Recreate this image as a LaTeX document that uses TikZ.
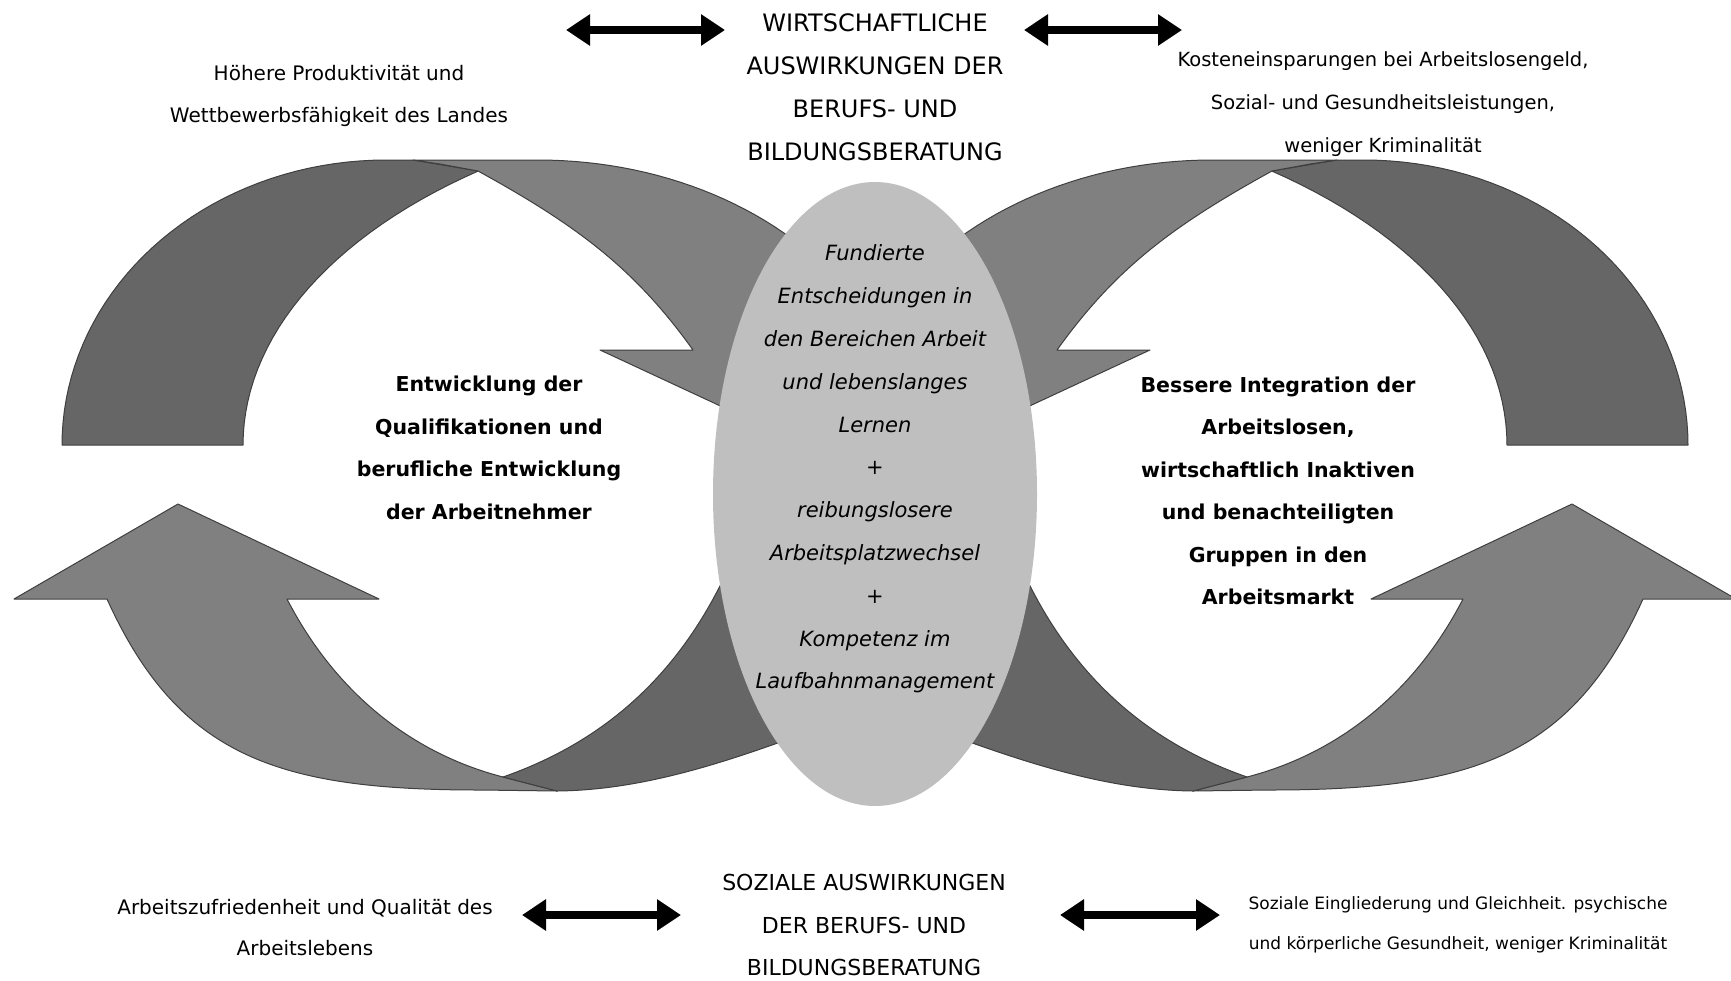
\documentclass[tikz,border=0pt]{standalone}
\usepackage{fontspec}
\setmainfont{DejaVu Sans}
\usetikzlibrary{arrows.meta,shapes.geometric}
\definecolor{ribbondark}{HTML}{666666}
\definecolor{ribbonlight}{HTML}{808080}
\definecolor{ribbonedge}{HTML}{3F3F3F}
\definecolor{ovalgray}{HTML}{BFBFBF}

\begin{document}
\begin{tikzpicture}[x=1pt,y=-1pt,
  ribbonback/.style={fill=ribbondark,draw=ribbonedge,line width=1pt,line join=round},
  ribbonfront/.style={fill=ribbonlight,draw=ribbonedge,line width=1pt,line join=round},
  ovalshape/.style={ellipse,fill=ovalgray,minimum width=324pt,minimum height=624pt,inner sep=0pt},
  dblarrow/.style={{Triangle[length=24pt,width=30pt]}-{Triangle[length=24pt,width=30pt]},line width=8pt},
  titletext/.style={align=center,font=\fontsize{24}{43}\selectfont},
  sidetext/.style={align=center,font=\fontsize{20}{42}\selectfont},
  boldtext/.style={align=center,font=\fontsize{20.5}{42.5}\selectfont\bfseries},
  ovaltext/.style={align=center,font=\fontsize{21}{42.8}\selectfont\itshape}]
 \useasboundingbox (0,0) rectangle (1731,980);
 % the two ribbon rings, right one mirrored
 \foreach \side in {1,-1}{
  \begin{scope}[shift={(875,0)},xscale=\side,shift={(-875,0)}]
   \filldraw[ribbonback] plot[domain=180:90,samples=40] ({386+324*cos(\x)},{445-285*sin(\x)})
     -- (413,160) -- (478,171)
     -- plot[domain=127.2:180,samples=30] ({838+595*cos(\x)},{445-344*sin(\x)}) -- cycle;
   \filldraw[ribbonfront] (413,160) -- (538,160)
     -- plot[domain=90:35,samples=30] ({538+368*cos(\x)},{445-285*sin(\x)})
     -- (900,330) -- (830,457) -- (600,350) -- (693,350)
     .. controls (635,269) and (578,226) .. (478,171) -- (440,164) -- cycle;
   \filldraw[ribbonfront] (178,504) -- (14,599) -- (107,599)
     .. controls (179,758) and (280,790) .. (480,790) -- (557,791) -- (503,777)
     .. controls (416,754.5) and (337.6,696.9) .. (287,599) -- (379,599) -- cycle;
   \filldraw[ribbonback] (503,777) .. controls (603,742) and (680,676) .. (730,565)
     -- (740,540) -- (845,718) .. controls (740,758) and (650,790) .. (557,791) -- cycle;
  \end{scope}
 }
 \node[ovalshape] (oval) at (875,494) {};
 \node[ovaltext] (ovalText) at (875,469) {Fundierte\\Entscheidungen in\\den Bereichen Arbeit\\und lebenslanges\\Lernen\\+\\reibungslosere\\Arbeitsplatzwechsel\\+\\Kompetenz im\\Laufbahnmanagement};
 \node[boldtext] (skillsText) at (489,448) {Entwicklung der\\Qualifikationen und\\berufliche Entwicklung\\der Arbeitnehmer};
 \node[boldtext] (integrText) at (1278,491) {Bessere Integration der\\Arbeitslosen,\\wirtschaftlich Inaktiven\\und benachteiligten\\Gruppen in den\\Arbeitsmarkt};
 % economic effects
 \node[titletext] (ecoTitle) at (875,87) {WIRTSCHAFTLICHE\\AUSWIRKUNGEN DER\\BERUFS- UND\\BILDUNGSBERATUNG};
 \node[sidetext] (ecoLeft) at (339,96) {Höhere Produktivität und\\Wettbewerbsfähigkeit des Landes};
 \node[sidetext,font=\fontsize{19.5}{43}\selectfont] (ecoRight) at (1383,104) {Kosteneinsparungen bei Arbeitslosengeld,\\Sozial- und Gesundheitsleistungen,\\weniger Kriminalität};
 \coordinate (ecoLa) at (566,30);
 \coordinate (ecoLb) at (725,30);
 \coordinate (ecoRa) at (1024,30);
 \coordinate (ecoRb) at (1182,30);
 \draw[dblarrow] (ecoLa) -- (ecoLb);
 \draw[dblarrow] (ecoRa) -- (ecoRb);
 % social effects
 \node[titletext,font=\fontsize{22}{42.5}\selectfont] (socTitle) at (864,925) {SOZIALE AUSWIRKUNGEN\\DER BERUFS- UND\\BILDUNGSBERATUNG};
 \node[sidetext,font=\fontsize{20}{41}\selectfont] (socLeft) at (305,928) {Arbeitszufriedenheit und Qualität des\\Arbeitslebens};
 \node[sidetext,font=\fontsize{17}{40}\selectfont] (socRight) at (1458,925) {Soziale Eingliederung und Gleichheit. psychische\\und körperliche Gesundheit, weniger Kriminalität};
 \coordinate (socLa) at (522,915);
 \coordinate (socLb) at (681,915);
 \coordinate (socRa) at (1060,915);
 \coordinate (socRb) at (1220,915);
 \draw[dblarrow] (socLa) -- (socLb);
 \draw[dblarrow] (socRa) -- (socRb);
\end{tikzpicture}
\end{document}
